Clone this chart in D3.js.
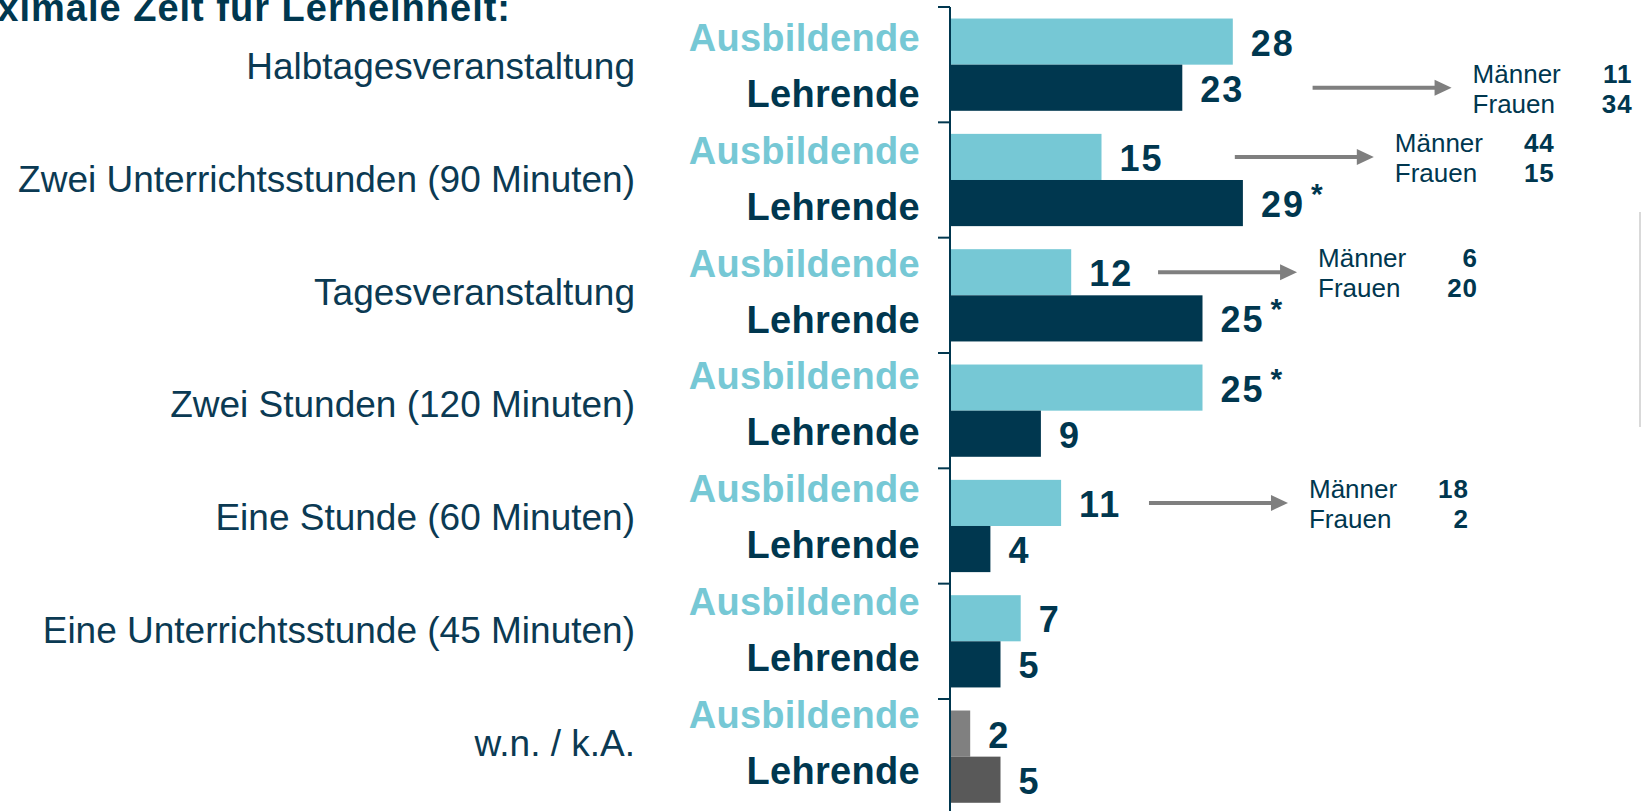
<!DOCTYPE html>
<html>
<head>
<meta charset="utf-8">
<script src="https://cdn.jsdelivr.net/npm/d3@7"></script>
<style>
  html, body { margin: 0; padding: 0; background: #fff; overflow: hidden; }
  svg { display: block; font-family: "Liberation Sans", Arial, sans-serif; }
</style>
</head>
<body>
<script>
// Werte aus der Grafik (Prozent)
const categories = [
  "Halbtagesveranstaltung",
  "Zwei Unterrichtsstunden (90 Minuten)",
  "Tagesveranstaltung",
  "Zwei Stunden (120 Minuten)",
  "Eine Stunde (60 Minuten)",
  "Eine Unterrichtsstunde (45 Minuten)",
  "w.n. / k.A."
];
const groups = ["Ausbildende", "Lehrende"];
const ausbildende = [28, 15, 12, 25, 11, 7, 2];
const lehrende = [23, 29, 25, 9, 4, 5, 5];
const ausbildendeStar = [false, false, false, true, false, false, false];
const lehrendeStar = [false, true, true, false, false, false, false];

// Männer / Frauen Hinweise
const noteGroup = [0, 1, 2, 4];
const noteRow = ["Lehrende", "Ausbildende", "Ausbildende", "Ausbildende"];
const noteMaenner = [11, 44, 6, 18];
const noteFrauen = [34, 15, 20, 2];
const noteAt = [35.9, 28.2, 20.6, 19.7]; // Pfeilanfang in Werteinheiten

// Titel, im Original links abgeschnitten
const title = "ximale Zeit für Lerneinheit:";

const width = 1641, height = 811;
const navy = "#00374f", light = "#76c8d5";
const barColors = { Ausbildende: light, Lehrende: navy };
const greyColors = { Ausbildende: "#808080", Lehrende: "#595959" };

const svg = d3.select("body").append("svg").attr("width", width).attr("height", height);

const x = d3.scaleLinear().domain([0, 10]).range([950, 1051]);
const y = d3.scaleBand().domain(categories).range([7, 7 + 7 * 115.33]).paddingInner(0.2).paddingOuter(0.1);
const y1 = d3.scaleBand().domain(groups).range([0, y.bandwidth()]);
// Textzeilen laufen etwas enger als die Balken
const ty = d3.scalePoint().domain(categories).range([65, 65 + 6 * 112.8]);

const rows = categories.flatMap((c, i) => [
  { cat: c, i, grp: "Ausbildende", v: ausbildende[i], star: ausbildendeStar[i] },
  { cat: c, i, grp: "Lehrende", v: lehrende[i], star: lehrendeStar[i] }
]);

// Titel
svg.append("text").attr("x", 511).attr("y", 21).attr("text-anchor", "end")
  .attr("font-size", 38).attr("font-weight", "bold").attr("letter-spacing", 1)
  .attr("fill", navy).text(title);

// Kategorien
svg.selectAll(".cat").data(categories).enter().append("text")
  .attr("class", "cat")
  .attr("x", 635).attr("y", d => ty(d) + 14)
  .attr("text-anchor", "end").attr("font-size", 37).attr("fill", "#0b3a53")
  .text(d => d);

// Gruppenbeschriftungen
svg.selectAll(".grp").data(rows).enter().append("text")
  .attr("class", "grp")
  .attr("x", 920).attr("y", d => ty(d.cat) + (d.grp === "Ausbildende" ? -14 : 42))
  .attr("text-anchor", "end").attr("font-size", 38).attr("font-weight", "bold")
  .attr("letter-spacing", 0.3)
  .attr("fill", d => d.grp === "Ausbildende" ? light : navy)
  .text(d => d.grp);

// Balken
svg.selectAll(".bar").data(rows).enter().append("rect")
  .attr("class", "bar")
  .attr("x", x(0)).attr("y", d => y(d.cat) + y1(d.grp))
  .attr("width", d => x(d.v) - x(0)).attr("height", y1.bandwidth())
  .attr("fill", d => d.i === categories.length - 1 ? greyColors[d.grp] : barColors[d.grp]);

// Werte
const val = svg.selectAll(".val").data(rows).enter().append("text")
  .attr("class", "val")
  .attr("x", d => x(d.v) + 18).attr("y", d => y(d.cat) + y1(d.grp) + y1.bandwidth() / 2 + 14)
  .attr("font-size", 36).attr("font-weight", "bold").attr("letter-spacing", 2)
  .attr("fill", navy)
  .text(d => d.v);
val.filter(d => d.star).append("tspan")
  .attr("dx", 6).attr("dy", -13).attr("font-size", 30).attr("letter-spacing", 0).text("*");

// Achse mit Trennstrichen
const axis = svg.append("g").attr("stroke", navy).attr("stroke-width", 2);
axis.append("line").attr("x1", x(0)).attr("x2", x(0)).attr("y1", y.range()[0]).attr("y2", height);
axis.selectAll(".tick").data(categories).enter().append("line")
  .attr("x1", x(0) - 12).attr("x2", x(0))
  .attr("y1", d => y(d) - y.step() * y.paddingInner() / 2)
  .attr("y2", d => y(d) - y.step() * y.paddingInner() / 2);

// Pfeile mit Männer / Frauen
const notes = noteGroup.map((g, k) => ({
  cat: categories[g], row: noteRow[k], m: noteMaenner[k], f: noteFrauen[k], at: noteAt[k]
}));
const note = svg.selectAll(".note").data(notes).enter().append("g").attr("class", "note")
  .attr("transform", d => `translate(${x(d.at)},${y(d.cat) + y1(d.row) + y1.bandwidth() / 2})`);
note.append("line").attr("x1", 0).attr("x2", 125).attr("y1", 0).attr("y2", 0)
  .attr("stroke", "#7f7f7f").attr("stroke-width", 4);
note.append("path").attr("d", "M122,-8L139,0L122,8Z").attr("fill", "#7f7f7f");
note.append("text").attr("x", 160).attr("y", -5).attr("font-size", 26).attr("fill", navy).text("Männer");
note.append("text").attr("x", 160).attr("y", 25).attr("font-size", 26).attr("fill", navy).text("Frauen");
note.append("text").attr("x", 320).attr("y", -5).attr("text-anchor", "end")
  .attr("font-size", 26).attr("font-weight", "bold").attr("letter-spacing", 1).attr("fill", navy).text(d => d.m);
note.append("text").attr("x", 320).attr("y", 25).attr("text-anchor", "end")
  .attr("font-size", 26).attr("font-weight", "bold").attr("letter-spacing", 1).attr("fill", navy).text(d => d.f);

// dünne Linie am rechten Rand
svg.append("line").attr("x1", 1640).attr("x2", 1640).attr("y1", 212).attr("y2", 427)
  .attr("stroke", "#d9d9d9").attr("stroke-width", 2);
</script>
</body>
</html>
